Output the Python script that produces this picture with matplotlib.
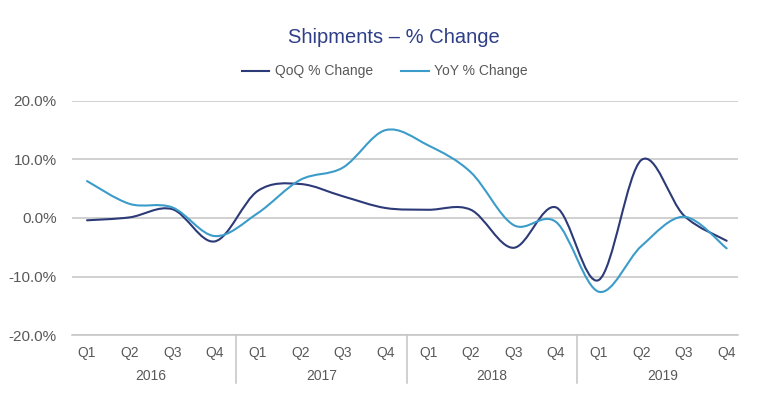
import numpy as np
import matplotlib
matplotlib.use('Agg')
import matplotlib.pyplot as plt
from matplotlib.path import Path
from matplotlib.patches import PathPatch
from matplotlib.lines import Line2D
import matplotlib.transforms as mtransforms

plt.rcParams['font.family'] = ['Liberation Sans', 'DejaVu Sans']

quarters = ['Q1', 'Q2', 'Q3', 'Q4'] * 4
years = ['2016', '2017', '2018', '2019']
qoq = [-0.4, 0.1, 1.5, -4.0, 4.6, 5.8, 3.7, 1.7, 1.4, 1.4, -5.1, 1.8, -10.6, 9.9, 0.4, -3.9]
yoy = [6.3, 2.4, 1.8, -3.1, 0.8, 6.5, 8.6, 15.0, 12.4, 7.8, -1.2, -0.7, -12.6, -4.8, 0.2, -5.2]

navy = '#2c3a78'
light = '#3b9cc9'


def smooth_path(x, y):
	# excel style smoothed line: cubic bezier segments through the points
	x = np.asarray(x, float)
	y = np.asarray(y, float)
	n = len(x)
	verts = [(x[0], y[0])]
	codes = [Path.MOVETO]
	for i in range(n - 1):
		p0 = i - 1 if i > 0 else i
		p3 = i + 2 if i + 2 < n else i + 1
		c1 = (x[i] + (x[i + 1] - x[p0]) / 6, y[i] + (y[i + 1] - y[p0]) / 6)
		c2 = (x[i + 1] - (x[p3] - x[i]) / 6, y[i + 1] - (y[p3] - y[i]) / 6)
		verts += [c1, c2, (x[i + 1], y[i + 1])]
		codes += [Path.CURVE4] * 3
	return Path(verts, codes)


fig = plt.figure(figsize=(7.59, 3.97), dpi=100)
ax = fig.add_axes([0.095, 0.156, 0.877, 0.59])

xs = np.arange(len(qoq))
for vals, c in [(qoq, navy), (yoy, light)]:
	ax.add_patch(PathPatch(smooth_path(xs, vals), facecolor='none', edgecolor=c, lw=1.5,
	                       capstyle='round', joinstyle='round'))

ax.set_xlim(-0.35, 15.26)
ax.set_ylim(-20, 20)
ax.set_yticks([-20, -10, 0, 10, 20])
ax.set_yticklabels(['-20.0%', '-10.0%', '0.0%', '10.0%', '20.0%'])
ax.yaxis.grid(True, color='#c4c4c4', lw=1.1)
ax.set_axisbelow(True)
for s in ['top', 'right', 'left']:
	ax.spines[s].set_visible(False)
ax.spines['bottom'].set_color('#c4c4c4')
ax.spines['bottom'].set_linewidth(1.1)
ax.tick_params(axis='y', length=0, pad=11, labelsize=11, labelcolor='#595959')
ax.tick_params(axis='x', length=0, pad=8, labelsize=10, labelcolor='#595959')
ax.set_xticks(xs)
ax.set_xticklabels(quarters)

trans = mtransforms.blended_transform_factory(ax.transData, ax.transAxes)
for b in [3.5, 7.5, 11.5]:
	ax.add_line(Line2D([b, b], [0, -0.205], transform=trans, color='#c4c4c4', lw=1.1, clip_on=False))
for i, yr in enumerate(years):
	ax.text(i * 4 + 1.5, -0.175, yr, transform=trans, ha='center', va='center',
	        fontsize=10, color='#595959')

fig.text(0.519, 0.905, 'Shipments \u2013 % Change', ha='center', va='center', fontsize=14.5, color='#2f3f87')
handles = [Line2D([], [], color=navy, lw=1.5), Line2D([], [], color=light, lw=1.5)]
fig.legend(handles, ['QoQ % Change', 'YoY % Change'], loc='center', bbox_to_anchor=(0.507, 0.82),
           ncol=2, frameon=False, fontsize=10, labelcolor='#595959', handlelength=2.0,
           handletextpad=0.4, columnspacing=2.0)

fig.savefig('out.png', dpi=100)
